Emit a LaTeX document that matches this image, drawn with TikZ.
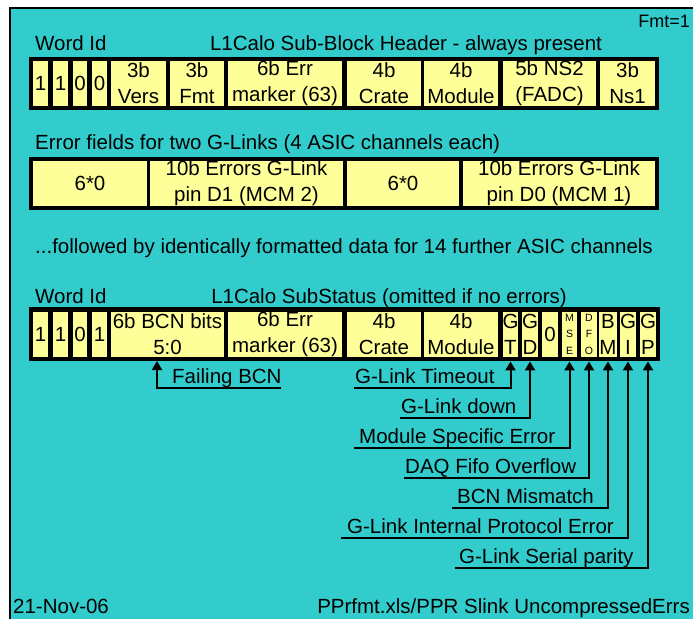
\documentclass[tikz,border=0pt]{standalone}
\usepackage{fontspec}
\setmainfont{Liberation Sans}
\usetikzlibrary{arrows.meta}
\definecolor{bgcyan}{RGB}{51,204,204}
\definecolor{cellyellow}{RGB}{255,255,153}
\newcommand{\ycell}[5]{\node[cell, minimum width={(#3-#2)*1bp}] (#1) at ({(#2+#3)/2},\rowy) {#5};}
\newcommand{\scell}[4]{\node[cell, small, minimum width={(#3-#2)*1bp}] (#1) at ({(#2+#3)/2},\rowy) {#4};}
\begin{document}
\begin{tikzpicture}[x=1bp,y=-1bp,
  every node/.style={font=\fontsize{20.5bp}{25.8bp}\selectfont, inner sep=0pt, text=black},
  bar/.style={fill=black, draw=none, anchor=north west, minimum height=53bp},
  cell/.style={fill=cellyellow, draw=none, minimum height=45bp, align=center},
  small/.style={font=\fontsize{10.5bp}{16.5bp}\selectfont},
  arr/.style={line width=2bp, -{Triangle[width=10bp,length=9bp]}},
  lbl/.style={anchor=base west},
]
\useasboundingbox (0,0) rectangle (693,619);
\fill[bgcyan] (10,8) rectangle (693,619);
\draw[line width=2bp] (10,619) -- (10,8) -- (693,8);

% headings
\node[anchor=base east, font=\fontsize{18bp}{20bp}\selectfont] (fmt) at (690,28) {Fmt=1};
\node[anchor=base west] (wid1) at (35,51) {Word Id};
\node[anchor=base] (hdr1) at (406,51) {L1Calo Sub-Block Header - always present};

% row 1
\node[bar, minimum width=630bp] (bar1) at (29,57) {};
\def\rowy{83.5}
\ycell{r1a}{33}{48}{}{1}
\ycell{r1b}{53}{68}{}{1}
\ycell{r1c}{73}{87}{}{0}
\ycell{r1d}{92}{107}{}{0}
\ycell{vers}{111}{166}{}{3b\\Vers}
\ycell{fmtc}{170}{224}{}{3b\\Fmt}
\ycell{err1}{228}{342}{}{6b Err\\marker (63)}
\ycell{crate1}{347}{421}{}{4b\\Crate}
\ycell{mod1}{424}{498}{}{4b\\Module}
\ycell{ns2}{503}{596}{}{5b NS2\\(FADC)}
\ycell{ns1}{600}{655}{}{3b\\Ns1}

% row 2
\node[anchor=base west] (errf) at (35,150) {Error fields for two G-Links (4 ASIC channels each)};
\node[bar, minimum width=630bp] (bar2) at (29,157) {};
\def\rowy{183.5}
\ycell{za}{33}{147}{}{6*0}
\ycell{dd1}{150}{343}{}{10b Errors G-Link\\pin D1 (MCM 2)}
\ycell{zb}{347}{459}{}{6*0}
\ycell{dd0}{463}{655}{}{10b Errors G-Link\\pin D0 (MCM 1)}

\node[anchor=base west] (foll) at (35,253) {...followed by identically formatted data for 14 further ASIC channels};

% row 3
\node[anchor=base west] (wid3) at (35,303) {Word Id};
\node[anchor=base] (hdr3) at (389,303) {L1Calo SubStatus (omitted if no errors)};
\node[bar, minimum width=631bp, minimum height=54bp] (bar3) at (29,307) {};
\def\rowy{334.25}
\ycell{s1}{33}{48}{}{1}
\ycell{s2}{53}{68}{}{1}
\ycell{s3}{73}{87}{}{0}
\ycell{s4}{92}{107}{}{1}
\ycell{bcn}{111}{224}{}{6b BCN bits\\5:0}
\ycell{err3}{228}{342}{}{6b Err\\marker (63)}
\ycell{crate3}{347}{421}{}{4b\\Crate}
\ycell{mod3}{424}{498}{}{4b\\Module}
\ycell{gt}{503}{518}{}{G\\T}
\ycell{gd}{522}{538}{}{G\\D}
\ycell{zc}{542}{558}{}{0}
\scell{mse}{562}{577}{M\\S\\E}
\scell{dfo}{581}{597}{D\\F\\O}
\ycell{bm}{600}{616}{}{B\\M}
\ycell{gi}{620}{636}{}{G\\I}
\ycell{gp}{640}{656}{}{G\\P}

% arrows and labels
\coordinate (fbTip) at (157,361);
\coordinate (fbEnd) at (281,388);
\node[lbl] (fbL) at (172,383) {Failing BCN};
\draw[arr] (fbEnd) -| (fbTip);

\coordinate (tEnd) at (354,388);
\node[lbl] (tL) at (355,383) {G-Link Timeout};
\draw[arr] (tEnd) -| (gt.south |- bar3.south);

\coordinate (dEnd) at (400,418);
\node[lbl] (dL) at (401,413) {G-Link down};
\draw[arr] (dEnd) -| (gd.south |- bar3.south);

\coordinate (mEnd) at (354,448);
\node[lbl] (mL) at (359,443) {Module Specific Error};
\draw[arr] (mEnd) -| (mse.south |- bar3.south);

\coordinate (qEnd) at (404,478);
\node[lbl] (qL) at (405,473) {DAQ Fifo Overflow};
\draw[arr] (qEnd) -| (dfo.south |- bar3.south);

\coordinate (bEnd) at (452,508);
\node[lbl] (bL) at (457,503) {BCN Mismatch};
\draw[arr] (bEnd) -| (bm.south |- bar3.south);

\coordinate (iEnd) at (341,538);
\node[lbl] (iL) at (347,533) {G-Link Internal Protocol Error};
\draw[arr] (iEnd) -| (gi.south |- bar3.south);

\coordinate (pEnd) at (455,568);
\node[lbl] (pL) at (459,563) {G-Link Serial parity};
\draw[arr] (pEnd) -| (gp.south |- bar3.south);

% footer
\node[anchor=base west] (date) at (13,613) {21-Nov-06};
\node[anchor=base east] (file) at (690,613) {PPrfmt.xls/PPR Slink UncompressedErrs};
\end{tikzpicture}
\end{document}
